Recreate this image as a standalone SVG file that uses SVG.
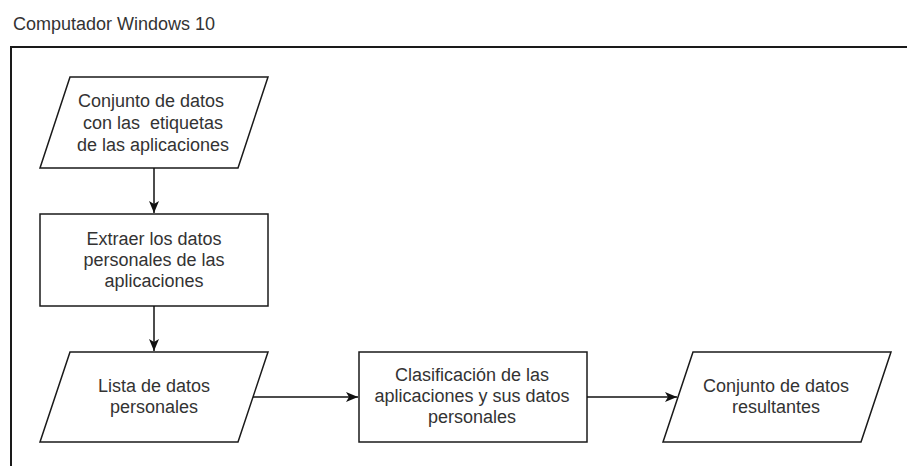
<svg xmlns="http://www.w3.org/2000/svg" width="907" height="466" viewBox="0 0 907 466">
  <style>
    .shape { fill: #ffffff; stroke: #1a1a1a; stroke-width: 1.5; }
    .frame { fill: #ffffff; stroke: #1a1a1a; stroke-width: 2; }
    .lbl { font-family: "Liberation Sans", Arial, sans-serif; font-size: 18px; fill: #333333; text-anchor: middle; white-space: pre; }
    .title { font-family: "Liberation Sans", Arial, sans-serif; font-size: 18px; fill: #333333; }
    .edge { fill: none; stroke: #111111; stroke-width: 1.5; }
  </style>
  <defs>
    <marker id="arrow" markerUnits="userSpaceOnUse" markerWidth="12" markerHeight="10" refX="12" refY="5" orient="auto">
      <path d="M0,0 L12,5 L0,10 L3,5 Z" fill="#111111"/>
    </marker>
  </defs>
  <rect width="907" height="466" fill="#ffffff"/>
  <g id="frame">
    <text class="title" x="13" y="30">Computador Windows 10</text>
    <rect class="frame" x="11" y="47" width="920" height="450"/>
  </g>
  <g id="n1">
    <polygon class="shape" points="70,77 268,77 238,168 40,168"/>
    <text class="lbl" x="151" y="107">Conjunto de datos</text>
    <text class="lbl" x="153" y="129" xml:space="preserve">con las  etiquetas</text>
    <text class="lbl" x="153" y="151">de las aplicaciones</text>
  </g>
  <g id="n2">
    <rect class="shape" x="40" y="214" width="228" height="92"/>
    <text class="lbl" x="154" y="245">Extraer los datos</text>
    <text class="lbl" x="154" y="266">personales de las</text>
    <text class="lbl" x="154" y="287">aplicaciones</text>
  </g>
  <g id="n3">
    <polygon class="shape" points="70,352 268,352 238,442 40,442"/>
    <text class="lbl" x="154" y="392">Lista de datos</text>
    <text class="lbl" x="154" y="413">personales</text>
  </g>
  <g id="n4">
    <rect class="shape" x="359" y="352" width="228" height="90"/>
    <text class="lbl" x="472" y="381">Clasificación de las</text>
    <text class="lbl" x="472" y="402">aplicaciones y sus datos</text>
    <text class="lbl" x="472" y="423">personales</text>
  </g>
  <g id="n5">
    <polygon class="shape" points="693,352 891,352 861,442 663,442"/>
    <text class="lbl" x="776" y="392">Conjunto de datos</text>
    <text class="lbl" x="776" y="413">resultantes</text>
  </g>
  <g id="connectors">
    <line class="edge" x1="154" y1="168" x2="154" y2="213" marker-end="url(#arrow)"/>
    <line class="edge" x1="154" y1="306" x2="154" y2="351" marker-end="url(#arrow)"/>
    <line class="edge" x1="253" y1="397" x2="358" y2="397" marker-end="url(#arrow)"/>
    <line class="edge" x1="587" y1="397" x2="677" y2="397" marker-end="url(#arrow)"/>
  </g>
</svg>
